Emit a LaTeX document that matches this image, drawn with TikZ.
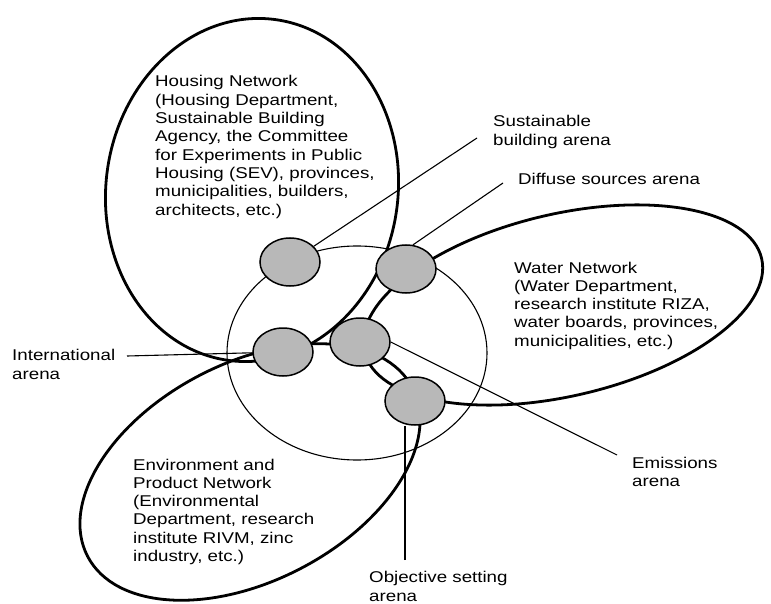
\documentclass[tikz,border=0pt]{standalone}
\usepackage{fontspec}
\setmainfont{Liberation Sans}[FakeStretch=1.2]
\usetikzlibrary{shapes.geometric,backgrounds}
\begin{document}
\begin{tikzpicture}[x=1pt,y=-1pt,
  net/.style={line width=2.8pt},
  arenaring/.style={line width=1.1pt},
  conn/.style={line width=1.1pt},
  arena/.style={ellipse, draw, line width=1.5pt, fill=black!28, minimum width=60pt, minimum height=48pt, inner sep=0pt},
  lbl/.style={anchor=base west, align=left, inner sep=0pt, font=\fontsize{15.6}{18.3}\selectfont}
]
\useasboundingbox (0,0) rectangle (771,604);

% arenas
\node[arena] (sus) at (290,262) {};
\node[arena] (dif) at (406,269) {};
\node[arena] (int) at (283,352) {};
\node[arena] (emi) at (360,342) {};
\node[arena] (obj) at (415,401) {};

% label ends
\coordinate (susend) at (477,138);
\coordinate (difend) at (503,183);
\coordinate (intend) at (127,356);
\coordinate (emiend) at (617,455);
\coordinate (objend) at (405,560);

\begin{pgfonlayer}{background}
  % networks
  \draw[net, rotate around={-8:(252,190)}] (252,190) ellipse [x radius=146, y radius=172];
  \draw[net, rotate around={27.4:(250,472)}] (250,472) ellipse [x radius=183, y radius=109];
  \draw[net, rotate around={13.2:(563,305)}] (563,305) ellipse [x radius=204, y radius=91];
  % arena ring
  \draw[arenaring] (357,353) ellipse [x radius=130, y radius=107];
  % connectors
  \draw[conn] (sus) -- (susend);
  \draw[conn] (dif.74) -- (difend);
  \draw[conn] (intend) -- (int);
  \draw[conn] (emi.east) -- (emiend);
  \draw[conn] (objend) -- (objend |- obj.south);
\end{pgfonlayer}

% texts (anchored at the baseline of the last line)
\node[lbl] (hou) at (155,215.1) {Housing Network\\(Housing Department,\\Sustainable Building\\Agency, the Committee\\for Experiments in Public\\Housing (SEV), provinces,\\municipalities, builders,\\architects, etc.)};
\node[lbl] (wat) at (514,346.2) {Water Network\\(Water Department,\\research institute RIZA,\\water boards, provinces,\\municipalities, etc.)};
\node[lbl] (env) at (133,561.5) {Environment and\\Product Network\\(Environmental\\Department, research\\institute RIVM, zinc\\industry, etc.)};
\node[lbl] (susl) at (493,145.3) {Sustainable\\building arena};
\node[lbl] (difl) at (518,185) {Diffuse sources arena};
\node[lbl] (intl) at (12,379) {International\\arena};
\node[lbl] (emil) at (632,486.3) {Emissions\\arena};
\node[lbl] (objl) at (369,601) {Objective setting\\arena};
\end{tikzpicture}
\end{document}
